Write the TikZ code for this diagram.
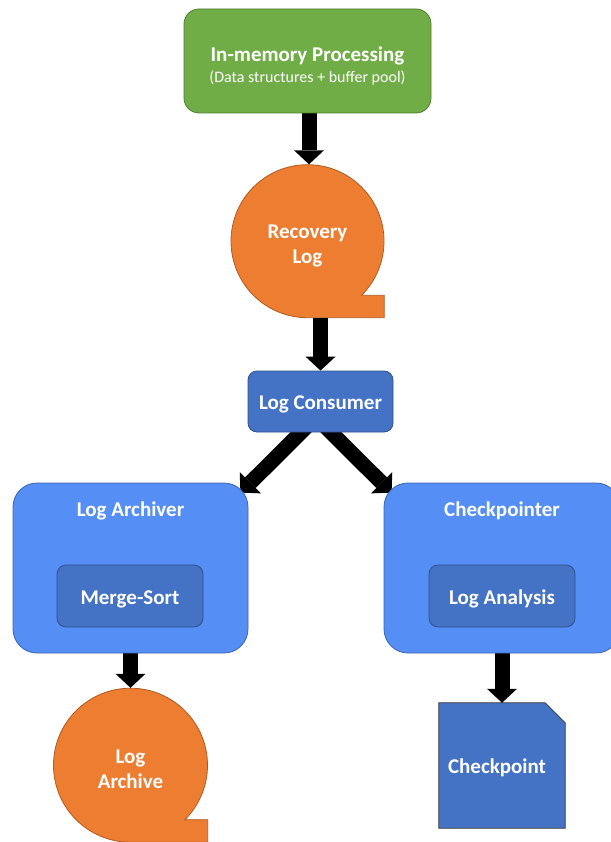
\documentclass[tikz,border=0pt]{standalone}
\usepackage{fontspec}
\setmainfont{Carlito}
\usetikzlibrary{arrows.meta,calc,backgrounds}
\definecolor{procgreen}{HTML}{70AD47}
\definecolor{procgreenline}{HTML}{507E32}
\definecolor{logorange}{HTML}{ED7D31}
\definecolor{logorangeline}{HTML}{AE5A21}
\definecolor{compblue}{HTML}{4472C4}
\definecolor{compblueline}{HTML}{2F528F}
\definecolor{hostblue}{RGB}{85,142,245}
\definecolor{hostblueline}{HTML}{3C64B0}
\tikzset{
  blockarrow/.style={draw=black, line width=15pt,
    -{Triangle[length=14pt,width=30pt,line width=0pt]}},
  whitetext/.style={text=white, inner sep=0pt, align=center,
    font=\fontsize{21}{25}\selectfont\bfseries},
  subtext/.style={text=white, inner sep=0pt, align=center,
    font=\fontsize{16}{19}\selectfont},
  greenbox/.style={rectangle, rounded corners=15pt, fill=procgreen,
    draw=procgreenline, line width=0.8pt, inner sep=0pt},
  compbox/.style={rectangle, rounded corners=9pt, fill=compblue,
    draw=compblueline, line width=0.8pt, inner sep=0pt},
  hostbox/.style={rectangle, rounded corners=24pt, fill=hostblue,
    draw=hostblueline, line width=0.8pt, inner sep=0pt},
  tapearea/.style={circle, inner sep=0pt},
  tapefill/.style={fill=logorange, draw=logorangeline, line width=0.8pt},
  cardfill/.style={fill=compblue, draw=black!80, line width=0.8pt},
}
\begin{document}
\begin{tikzpicture}[x=1pt, y=1pt, yscale=-1]
\useasboundingbox (0,0) rectangle (610,842);

% in-memory processing box
\node[greenbox, minimum width=247pt, minimum height=104pt] (green) at (307.5,61) {};
\node[whitetext] (gtitle) at (307.5,56) {In-memory Processing};
\node[subtext] (gsub) at (307.5,77.5) {(Data structures + buffer pool)};

% recovery log (sequential storage)
\node[tapearea, minimum size=153pt] (rlog) at (307.5,241) {};
\node[whitetext] (rlogtext) at (307.5,246) {Recovery\\Log};

% log consumer
\node[compbox, minimum width=145pt, minimum height=61pt] (consumer) at (320.5,401.5) {};
\node[whitetext] (consumertext) at (320.5,404) {Log Consumer};

% log archiver
\node[hostbox, minimum width=235pt, minimum height=170pt] (archiver) at (130.5,568) {};
\node[whitetext] (archivertext) at (130.5,511) {Log Archiver};
\node[compbox, minimum width=146pt, minimum height=62pt] (mergesort) at (130,596) {};
\node[whitetext] (mergesorttext) at (130,599) {Merge-Sort};

% checkpointer
\node[hostbox, minimum width=236pt, minimum height=170pt] (checkpointer) at (502,568) {};
\node[whitetext] (checkpointertext) at (502,511) {Checkpointer};
\node[compbox, minimum width=146pt, minimum height=62pt] (analysis) at (502,596) {};
\node[whitetext] (analysistext) at (502,599) {Log Analysis};

% log archive (sequential storage)
\node[tapearea, minimum size=154pt] (larchive) at (130.5,765) {};
\node[whitetext] (larchivetext) at (130.5,769) {Log\\Archive};

% checkpoint file
\node[inner sep=0pt, minimum width=126pt, minimum height=125pt] (checkpoint) at (502,765.5) {};
\node[whitetext] (checkpointtext) at (497,768) {Checkpoint};

\begin{pgfonlayer}{background}
  % storage shapes
  \draw[tapefill] (rlog.south) arc[start angle=90, end angle=405, radius=76.5]
    -| (rlog.south -| rlog.east) -- cycle;
  \draw[tapefill] (larchive.south) arc[start angle=90, end angle=405, radius=77]
    -| (larchive.south -| larchive.east) -- cycle;
  \draw[cardfill] (checkpoint.south west) -- (checkpoint.north west)
    -- ($(checkpoint.north east)+(-20,0)$) -- ($(checkpoint.north east)+(0,20)$)
    -- (checkpoint.south east) -- cycle;

  % data flow
  \draw[blockarrow] ($(green.south)+(1.5,0)$) -- ($(rlog.north)+(1.5,0)$);
  \draw[blockarrow] (consumer.north |- rlog.south) -- (consumer.north);
  \draw[blockarrow] ($(consumer.south)+(-11.5,-8)$) -- ($(archiver.north east)+(-8,10)$);
  \draw[blockarrow] ($(consumer.south)+(2.5,-8)$) -- ($(checkpointer.north west)+(8,10)$);
  \draw[blockarrow] (archiver.south) -- (larchive.north);
  \draw[blockarrow] (checkpointer.south) -- (checkpoint.north);
\end{pgfonlayer}
\end{tikzpicture}
\end{document}
